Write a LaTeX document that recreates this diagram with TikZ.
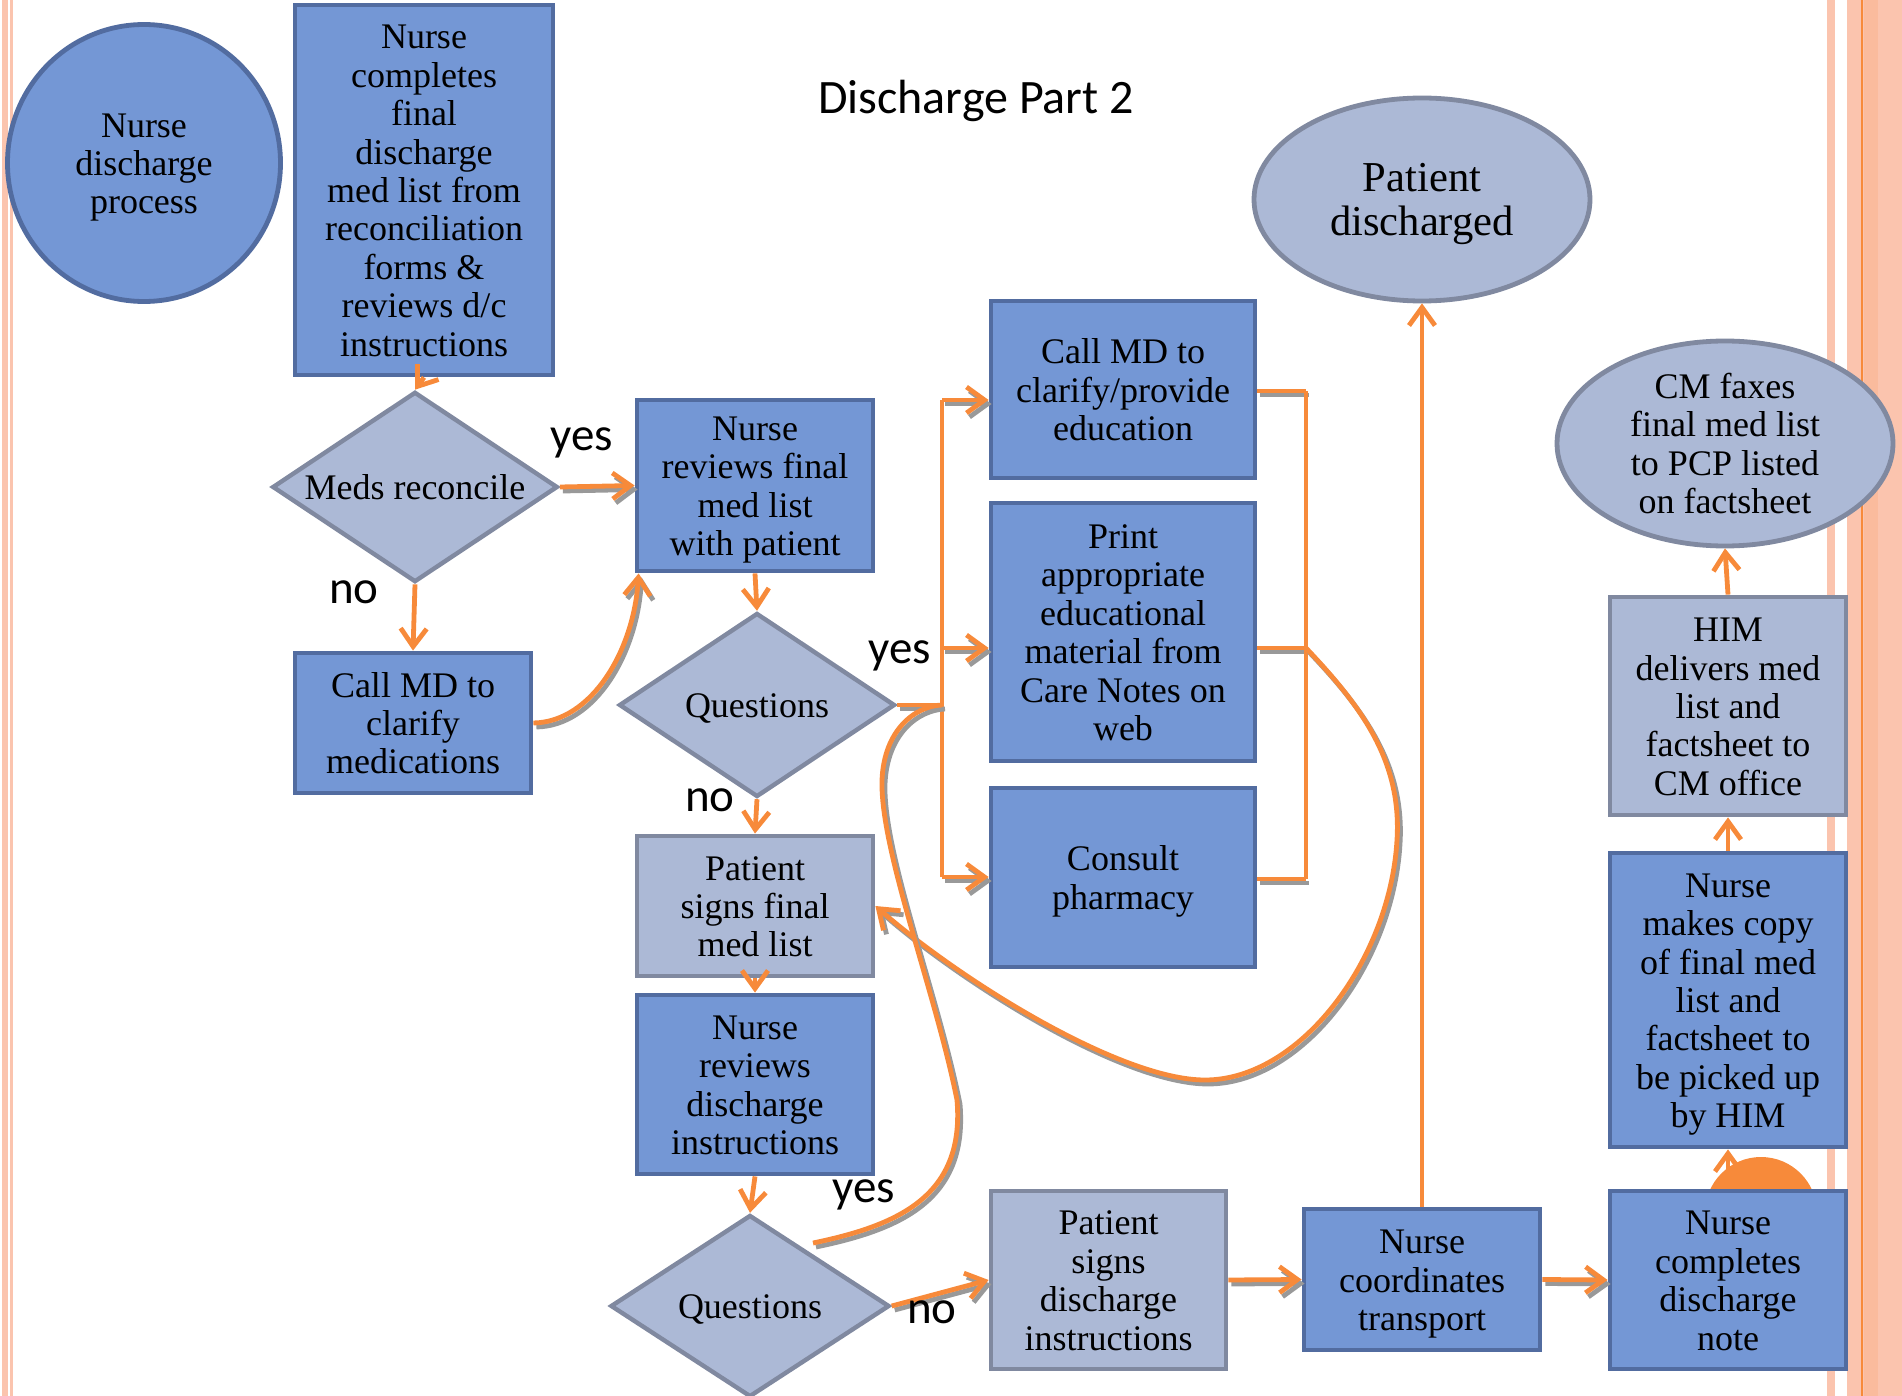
\documentclass[tikz,border=0pt]{standalone}
\usepackage{fontspec}
\setmainfont{Liberation Serif}
\newfontfamily\labelfont{Carlito}
\usetikzlibrary{shapes.geometric,arrows.meta}
\definecolor{boxblue}{RGB}{116,151,213}
\definecolor{boxblueline}{RGB}{82,108,160}
\definecolor{boxgrey}{RGB}{172,185,214}
\definecolor{boxgreyline}{RGB}{128,137,160}
\definecolor{orangeline}{RGB}{247,138,58}
\definecolor{salmon}{RGB}{251,196,174}
\newcommand\tp{\rule{0pt}{17pt}}
\newcommand\shadowdraw[2]{%
  \begin{scope}[transform canvas={xshift=1.5pt,yshift=-2pt}]
    \draw[#1, draw=black!40, line width=2.4pt] #2;
  \end{scope}
  \draw[#1] #2;}
\tikzset{
  boxtext/.style={align=center, inner sep=0pt, font=\fontsize{18pt}{19.2pt}\selectfont,
    execute at begin node={\rule{0pt}{17pt}}, execute at end node={\rule[-4.5pt]{0pt}{4.5pt}}},
  bluebox/.style={rectangle, boxtext, draw=boxblueline, fill=boxblue, line width=2.4pt},
  greybox/.style={rectangle, boxtext, draw=boxgreyline, fill=boxgrey, line width=2.4pt},
  decision/.style={diamond, shape aspect=1.5, boxtext, draw=boxgreyline, fill=boxgrey, line width=2.2pt},
  blueoval/.style={ellipse, boxtext, draw=boxblueline, fill=boxblue, line width=2.4pt},
  greyoval/.style={ellipse, boxtext, draw=boxgreyline, fill=boxgrey, line width=2.4pt, inner sep=-10pt},
  wire/.style={draw=orangeline, line width=2.4pt},
  link/.style={wire, -{Straight Barb[length=9pt,width=13pt]}},
  lbl/.style={inner sep=0pt, font=\labelfont\fontsize{23.5pt}{28pt}\selectfont},
}
\begin{document}
\begin{tikzpicture}[x=0.5pt,y=-0.5pt]
\useasboundingbox (0,0) rectangle (1902,1396);
% page border decoration
\fill[salmon] (1.5,0) rectangle (7.5,1396);
\fill[salmon] (10,0) rectangle (12.5,1396);
\fill[salmon] (1827,0) rectangle (1835,1396);
\fill[salmon] (1847,0) rectangle (1902,1396);
\fill[salmon!85!orangeline] (1864,0) rectangle (1878,1396);
\draw[orangeline, line width=1.2pt] (1862,0) -- (1862,1396);
% orange blob behind final box
\fill[orangeline] (1761,1213) circle[radius=28pt];

% title
\node[lbl, font=\labelfont\fontsize{24pt}{28pt}\selectfont] (title) at (976,101) {Discharge Part 2};

% nodes
\node[blueoval, minimum width=136.5pt, minimum height=138.5pt] (start) at (144,163) {\tp Nurse\\discharge\\process};
\node[bluebox, minimum width=129pt, minimum height=185pt] (nc) at (424,190) {\tp Nurse\\completes\\final\\discharge\\med list from\\reconciliation\\forms \&\\reviews d/c\\instructions};
\node[decision, minimum width=138pt, minimum height=93pt] (meds) at (415,487) {Meds reconcile};
\node[bluebox, minimum width=118pt, minimum height=70pt] (callmd) at (413,723) {\tp Call MD to\\clarify\\medications};
\node[bluebox, minimum width=118pt, minimum height=85.5pt] (nrf) at (755,485.5) {\tp Nurse\\reviews final\\med list\\with patient};
\node[decision, minimum width=138pt, minimum height=92pt] (q1) at (757,705) {Questions};
\node[greybox, minimum width=118pt, minimum height=70pt] (psf) at (755,906) {\tp Patient\\signs final\\med list};
\node[bluebox, minimum width=118pt, minimum height=89.5pt] (nrd) at (755,1084.5) {\tp Nurse\\reviews\\discharge\\instructions};
\node[decision, minimum width=139.5pt, minimum height=91pt] (q2) at (750,1306) {Questions};
\node[bluebox, minimum width=132pt, minimum height=88.5pt] (cmdedu) at (1123,389.5) {\tp Call MD to\\clarify/provide\\education};
\node[bluebox, minimum width=132pt, minimum height=129pt] (print) at (1123,632) {\tp Print\\appropriate\\educational\\material from\\Care Notes on\\web};
\node[bluebox, minimum width=132pt, minimum height=89.5pt] (consult) at (1123,877.5) {\tp Consult\\pharmacy};
\node[greyoval, minimum width=168pt, minimum height=101.5pt, font=\fontsize{21.3pt}{22pt}\selectfont] (pd) at (1422,199.5) {\rule{0pt}{19pt}Patient\\discharged};
\node[greybox, minimum width=117.5pt, minimum height=89pt] (psd) at (1108.5,1280) {\tp Patient\\signs\\discharge\\instructions};
\node[bluebox, minimum width=118pt, minimum height=70.5pt] (nct) at (1422,1279.5) {\tp Nurse\\coordinates\\transport};
\node[bluebox, minimum width=118pt, minimum height=89pt] (ncdn) at (1728,1280) {\tp Nurse\\completes\\discharge\\note};
\node[bluebox, minimum width=118pt, minimum height=147pt] (copy) at (1728,1000) {\tp Nurse\\makes copy\\of final med\\list and\\factsheet to\\be picked up\\by HIM};
\node[greybox, minimum width=118pt, minimum height=109pt] (him) at (1728,706) {\tp HIM\\delivers med\\list and\\factsheet to\\CM office};
\node[greyoval, minimum width=168pt, minimum height=102.5pt] (cmf) at (1725,443.5) {\tp CM faxes\\final med list\\to PCP listed\\on factsheet};

% helper coordinates
\coordinate (busmid) at (942,705);
\coordinate (bustop) at (942,400);
\coordinate (busprint) at (942,648);
\coordinate (busbot) at (942,877);
\coordinate (rtop) at (1306,391);
\coordinate (rmid) at (1306,648);
\coordinate (rbot) at (1306,879);
\coordinate (q2yes) at (813,1243);

% connectors
\draw[link] (nc.south) -- (meds.north);
\shadowdraw{link}{(meds.east) -- (nrf.west)}
\draw[link] (meds.south) -- (callmd.north);
\shadowdraw{link}{(callmd.east) .. controls (592,722) and (634,650) .. ([xshift=2pt]nrf.south west)}
\draw[link] (nrf.south) -- (q1.north);
\shadowdraw{wire}{(q1.east) -- (busmid)}
\draw[wire] (bustop) -- (busbot);
\shadowdraw{link}{(bustop) -- (cmdedu.west |- bustop)}
\shadowdraw{link}{(busprint) -- (print.west |- busprint)}
\shadowdraw{link}{(busbot) -- (consult.west |- busbot)}
\shadowdraw{wire}{(cmdedu.east |- rtop) -- (rtop)}
\shadowdraw{wire}{(print.east |- rmid) -- (rmid)}
\shadowdraw{wire}{(consult.east |- rbot) -- (rbot)}
\draw[wire] (rtop) -- (rbot);
\shadowdraw{link}{(rmid) .. controls (1360,705) and (1402,760) .. (1397,840)
   .. controls (1390,960) and (1300,1080) .. (1205,1080)
   .. controls (1120,1080) and (960,980) .. (psf.east)}
\draw[link] (q1.south) -- (psf.north);
\draw[link] (psf.south) -- (nrd.north);
\draw[link] (nrd.south) -- (q2.north);
\shadowdraw{wire}{(q2yes) .. controls (900,1225) and (965,1195) .. (957,1100)
   .. controls (935,990) and (880,850) .. (882,780)
   .. controls (884,730) and (915,706) .. (busmid)}
\shadowdraw{link}{(q2.east) -- (psd.west)}
\shadowdraw{link}{(psd.east) -- (nct.west)}
\shadowdraw{link}{(nct.east) -- (ncdn.west)}
\draw[link] (nct.north) -- (pd.south);
\draw[link] (ncdn.north) -- (copy.south);
\draw[link] (copy.north) -- (him.south);
\draw[link] (him.north) -- (cmf.south);

% labels
\node[lbl] (l1) at (582,443) {yes};
\node[lbl] (l2) at (354,592) {no};
\node[lbl] (l3) at (900,656) {yes};
\node[lbl] (l4) at (710,800) {no};
\node[lbl] (l5) at (864,1195) {yes};
\node[lbl] (l6) at (932,1312) {no};
\end{tikzpicture}
\end{document}
